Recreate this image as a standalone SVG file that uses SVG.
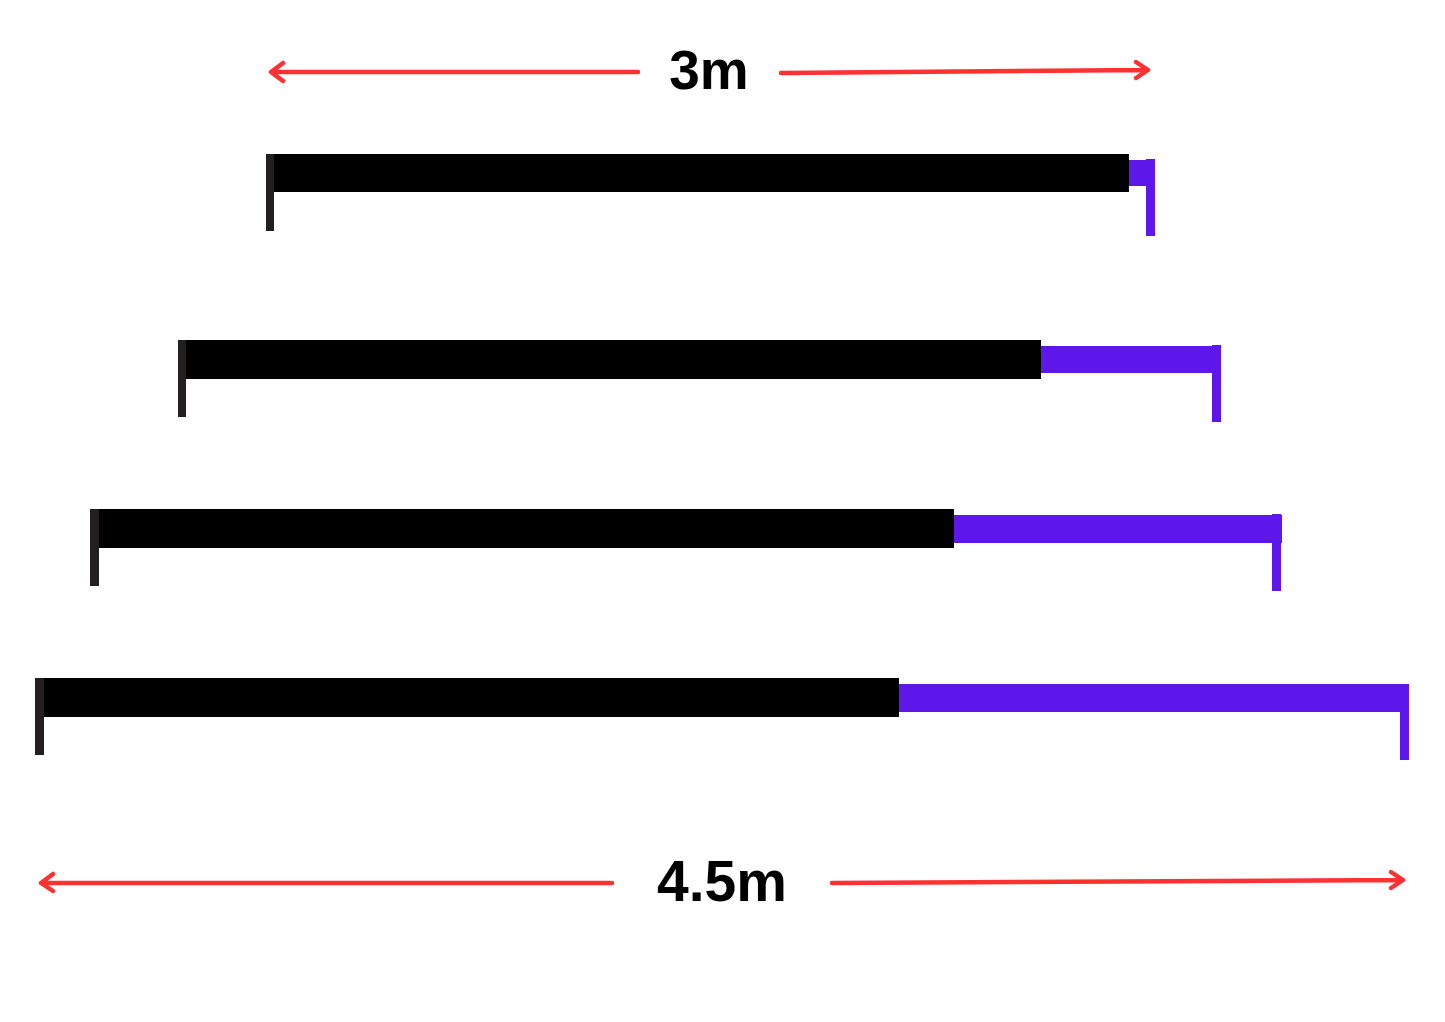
<svg xmlns="http://www.w3.org/2000/svg" width="1445" height="1022" viewBox="0 0 1445 1022">
<style>
.post{fill:#231f20}
.bar{fill:#000000}
.ext{fill:#5e17eb}
.arr{stroke:#ff3131;stroke-width:4.5;fill:none;stroke-linecap:round;stroke-linejoin:round}
.lbl{font-family:"Liberation Sans",Arial,sans-serif;font-weight:bold;fill:#000;text-anchor:middle}
</style>
<rect width="1445" height="1022" fill="#ffffff"/>
<g id="dim-3m">
<path class="arr" d="M638 72 L271 72 M283 63 L271 72 L283 81"/>
<path class="arr" d="M781 73 L1148 70 M1136 62 L1148 70 L1136 78"/>
<text class="lbl" x="709" y="89" font-size="55">3m</text>
</g>
<g id="row1">
<rect class="ext" x="1128" y="160" width="26" height="26"/>
<rect class="ext" x="1146" y="159" width="9" height="77"/>
<rect class="bar" x="266" y="154" width="863" height="38"/>
<rect class="post" x="266" y="154" width="8" height="77"/>
</g>
<g id="row2">
<rect class="ext" x="1040" y="346" width="181" height="27"/>
<rect class="ext" x="1212" y="345" width="9" height="77"/>
<rect class="bar" x="178" y="340" width="863" height="39"/>
<rect class="post" x="178" y="340" width="8" height="77"/>
</g>
<g id="row3">
<rect class="ext" x="953" y="515" width="329" height="28"/>
<rect class="ext" x="1272" y="514" width="9" height="77"/>
<rect class="bar" x="90" y="509" width="864" height="39"/>
<rect class="post" x="90" y="509" width="9" height="77"/>
</g>
<g id="row4">
<rect class="ext" x="898" y="684" width="511" height="28"/>
<rect class="ext" x="1400" y="684" width="9" height="76"/>
<rect class="bar" x="35" y="678" width="864" height="39"/>
<rect class="post" x="35" y="678" width="9" height="77"/>
</g>
<g id="dim-4-5m">
<path class="arr" d="M612 883 L41 883 M53 874 L41 883 L53 891"/>
<path class="arr" d="M832 883 L1403 880 M1391 872 L1403 880 L1391 888"/>
<text class="lbl" x="722" y="901" font-size="57">4.5m</text>
</g>
</svg>
